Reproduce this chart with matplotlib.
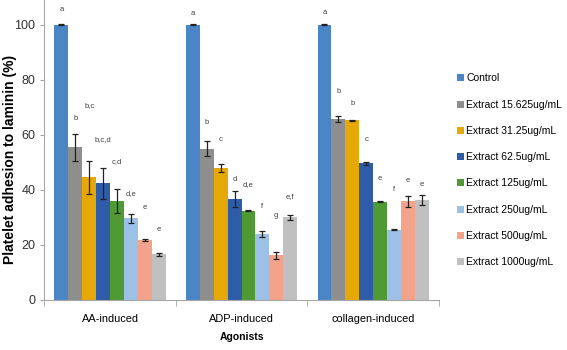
import numpy as np
import matplotlib
matplotlib.use("Agg")
import matplotlib.pyplot as plt

plt.rcParams['font.family'] = ['Liberation Sans', 'DejaVu Sans']

categories = ['AA-induced', 'ADP-induced', 'collagen-induced']
series = ['Control', 'Extract 15.625ug/mL', 'Extract 31.25ug/mL',
          'Extract 62.5ug/mL', 'Extract 125ug/mL', 'Extract 250ug/mL',
          'Extract 500ug/mL', 'Extract 1000ug/mL']

# mean adhesion (%) per series, one value per agonist
control = [100.0, 100.0, 100.0]
ext_15 = [55.5, 55.0, 65.7]
ext_31 = [44.5, 48.0, 65.3]
ext_62 = [42.4, 36.6, 49.7]
ext_125 = [36.0, 32.5, 35.7]
ext_250 = [29.6, 24.0, 25.5]
ext_500 = [21.8, 16.2, 35.8]
ext_1000 = [16.6, 30.0, 36.4]

# error bars
err_control = [0.2, 0.2, 0.2]
err_15 = [4.9, 2.6, 1.0]
err_31 = [6.1, 1.4, 0.2]
err_62 = [5.6, 3.0, 0.6]
err_125 = [4.5, 0.3, 0.2]
err_250 = [1.6, 1.1, 0.2]
err_500 = [0.5, 1.4, 2.0]
err_1000 = [0.5, 0.9, 1.8]

# significance letters (one list per agonist) and the height they were typed at
letters_aa = ['a', 'b', 'b,c', 'b,c,d', 'c,d', 'd,e', 'e', 'e']
letters_adp = ['a', 'b', 'c', 'd', 'd,e', 'f', 'g', 'e,f']
letters_col = ['a', 'b', 'b', 'c', 'e', 'f', 'e', 'e']
letter_y_aa = [105.5, 66.0, 70.5, 58.2, 50.3, 38.8, 33.7, 25.7]
letter_y_adp = [104.0, 64.5, 58.4, 43.6, 41.8, 33.9, 30.7, 37.6]
letter_y_col = [104.5, 75.7, 71.3, 58.2, 44.0, 40.0, 43.3, 41.8]

values = [control, ext_15, ext_31, ext_62, ext_125, ext_250, ext_500, ext_1000]
errors = [err_control, err_15, err_31, err_62, err_125, err_250, err_500, err_1000]
letters = [letters_aa, letters_adp, letters_col]
letter_y = [letter_y_aa, letter_y_adp, letter_y_col]

colors = ['#4a86c6', '#8e8e8e', '#e6a806', '#2f5ca8', '#4f9a35',
          '#9dc0e6', '#f2a38a', '#c0c0c0']

fig = plt.figure(figsize=(5.67, 3.5), dpi=100)
ax = fig.add_axes([0.078, 0.143, 0.696, 0.857])

x = np.arange(len(categories))
width = 0.1056
n = len(series)
for i in range(n):
    pos = x + (i - (n - 1) / 2) * width
    ax.bar(pos, values[i], width, color=colors[i], label=series[i], zorder=2)
    ax.errorbar(pos, values[i], yerr=errors[i], fmt='none', ecolor='#222222',
                elinewidth=0.9, capsize=2.2, capthick=0.9, zorder=3)
    for j in range(len(categories)):
        ax.text(pos[j], letter_y[j][i], letters[j][i], ha='center', va='center',
                fontsize=5.5, color='#404040')

ax.set_xlim(-0.5, 2.5)
ax.set_ylim(0, 109)
ax.set_yticks([0, 20, 40, 60, 80, 100])
ax.set_xticks(x)
ax.set_xticklabels(categories, fontsize=7.9)
ax.set_xticks([-0.5, 0.5, 1.5, 2.5], minor=True)
ax.tick_params(axis='x', which='major', length=0, pad=10)
ax.tick_params(axis='x', which='minor', length=4, color='#a6a6a6')
ax.tick_params(axis='y', length=3, color='#a6a6a6', labelsize=9, labelcolor='#333333')
for s in ['top', 'right']:
    ax.spines[s].set_visible(False)
for s in ['left', 'bottom']:
    ax.spines[s].set_color('#a6a6a6')

ax.set_ylabel('Platelet adhesion to laminin (%)', fontsize=10, fontweight='bold')
ax.yaxis.set_label_coords(-0.068, 0.467)
ax.set_xlabel('Agonists', fontsize=7.5, fontweight='bold', labelpad=6)

ax.legend(loc='upper left', bbox_to_anchor=(0.797, 0.805), bbox_transform=fig.transFigure,
          frameon=False, fontsize=7.5, handlelength=0.65, handleheight=0.65,
          handletextpad=0.25, labelspacing=1.56, borderpad=0)

fig.savefig('out.png', dpi=100)
